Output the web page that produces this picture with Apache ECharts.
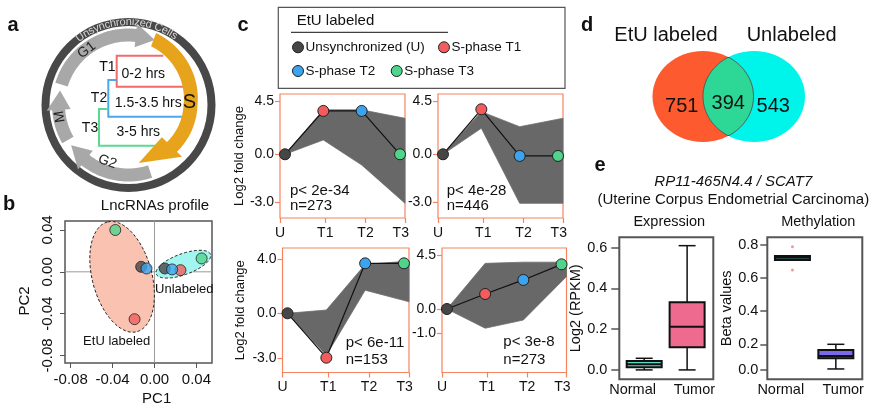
<!DOCTYPE html>
<html><head><meta charset="utf-8">
<script src="https://cdn.jsdelivr.net/npm/echarts@6/dist/echarts.min.js"></script>
<style>html,body{margin:0;padding:0;background:#fff}#c{width:869px;height:405px}</style>
</head><body><div id="c"></div>
<script>
// ---------------- DATA ----------------
// Panel b: PCA of lncRNA profiles (order: U, T1, T2, T3)
const pcaGroups = ['Unsynchronized (U)', 'S-phase T1', 'S-phase T2', 'S-phase T3'];
const etuPC1 = [-0.0127, -0.0190, -0.0076, -0.0374];
const etuPC2 = [0.0048, -0.0453, 0.0032, 0.0400];
const unlPC1 = [0.0098, 0.0248, 0.0168, 0.0450];
const unlPC2 = [0.0032, 0.0016, 0.0023, 0.0128];
const pcaTicks = [-0.08, -0.04, 0, 0.04];
// ellipse: [centre PC1, centre PC2, semi-major, semi-minor, angle deg]
const etuEllipse = [-0.0309, -0.0048, 0.0543, 0.0284, 105];
const unlEllipse = [0.0276, 0.0073, 0.0275, 0.0100, 20];

// Panel c: log2 fold-change profiles
const timePoints = ['U', 'T1', 'T2', 'T3'];
const timeX = [0, 1, 2, 3];
const bundleX = [0, 1, 2, 3.13];
const c1Profile = [0, 3.66, 3.66, 0];
const c1Upper = [0, 3.75, 3.75, 3.04];
const c1Lower = [0, 1.21, -0.90, -4.14];
const c2Profile = [0, 3.80, -0.14, -0.14];
const c2Upper = [0, 3.60, 2.33, 3.04];
const c2Lower = [0, 2.20, -4.14, -4.14];
const c3Profile = [0, -3.27, 3.68, 3.68];
const c3Upper = [0, 0.24, 3.60, 3.85];
const c3Lower = [0, -3.10, 1.70, 0.85];
const c4Profile = [0, 1.25, 2.42, 3.72];
const c4Upper = [0, 3.80, 3.90, 3.90];
const c4Lower = [0, -1.60, -0.92, 2.70];
const cPvals = ['p< 2e-34', 'p< 4e-28', 'p< 6e-11', 'p< 3e-8'];
const cNs = ['n=273', 'n=446', 'n=153', 'n=273'];
const cYTickText = [['4.5', '0.0', '-3.0'], ['4.5', '0.0', '-3.0'], ['4.0', '0.0', '-3.0'], ['4.5', '0.0', '-1.0']];
const cYTickPos = [[4.5, 0, -4.03], [4.5, 0, -4.03], [4.0, 0, -3.31], [4.5, 0, -2.03]];
const cXTickPos = [-0.13, 1.05, 2.1, 3.13];
const cXLabelPos = [-0.13, 1.05, 2.1, 3.02];

// Panel d: Venn
const vennSets = ['EtU labeled', 'Unlabeled'];
const vennCounts = [751, 394, 543];

// Panel e: boxplots
const boxGroups = ['Normal', 'Tumor'];
const exprMin = [0.000, 0.000];
const exprQ1 = [0.013, 0.111];
const exprMed = [0.028, 0.212];
const exprQ3 = [0.044, 0.332];
const exprMax = [0.057, 0.609];
const exprTicks = [0, 0.2, 0.4, 0.6];
const methMin = [0.709, 0.051];
const methQ1 = [0.709, 0.115];
const methMed = [0.723, 0.129];
const methQ3 = [0.733, 0.166];
const methMax = [0.733, 0.200];
const methOutliers = [[0, 0.790], [0, 0.649]];
const methTickPos = [0.0447, 0.2, 0.4, 0.6, 0.8];
const methTickText = ['0.0', '0.2', '0.4', '0.6', '0.8'];
const boxLabelPos = [-0.27, 1.17];

// ---------------- STYLE / BUILD ----------------
const FONT = 'Liberation Sans';
const dotColors = ['#464646', '#f25c5c', '#3ca4ee', '#50d48b'];
const ORANGE = '#f5845f';
const chart = echarts.init(document.getElementById('c'), null, {renderer: 'canvas', width: 869, height: 405});
const NOLINE = {show: false, onZero: false};

function mapLabel(pos, txt) {
  return v => { for (let i = 0; i < pos.length; i++) if (Math.abs(v - pos[i]) < 1e-6) return txt[i]; return ''; };
}
function T(text, x, y, size, o) {
  o = o || {};
  return {type: 'text', x: x, y: y, rotation: o.rot || 0, z: 10, silent: true,
    style: {text: text, fontSize: size, fontFamily: FONT, fontWeight: o.bold ? 'bold' : 'normal',
      fontStyle: o.italic ? 'italic' : 'normal', fill: o.color || '#111',
      align: o.align || 'center', verticalAlign: o.va || 'middle'}};
}

const grids = [], xAxes = [], yAxes = [], series = [], G = [];

// ---- Panel b
const bX = [-0.0854, 0.0549], bY = [-0.0872, 0.0486];
grids.push({left: 65, top: 221, width: 147, height: 142, show: true, borderColor: '#555', borderWidth: 1.5});
xAxes.push({gridIndex: 0, type: 'value', min: bX[0], max: bX[1], splitLine: {show: false}, axisLine: NOLINE,
  axisTick: {show: true, customValues: pcaTicks, length: 5, lineStyle: {color: '#555'}},
  axisLabel: {customValues: pcaTicks, formatter: v => v.toFixed(2), fontSize: 15, color: '#111', margin: 9, fontFamily: FONT}});
yAxes.push({gridIndex: 0, type: 'value', min: bY[0], max: bY[1], splitLine: {show: false}, axisLine: NOLINE,
  axisTick: {show: true, customValues: pcaTicks, length: 5, lineStyle: {color: '#555'}},
  axisLabel: {customValues: pcaTicks, formatter: v => v.toFixed(2), fontSize: 15, color: '#111', margin: 10, rotate: 90, fontFamily: FONT}});
series.push({type: 'custom', xAxisIndex: 0, yAxisIndex: 0, z: 0, silent: true, data: [[0, 0]],
  renderItem: (p, api) => {
    const a = api.coord([0, bY[0]]), b = api.coord([0, bY[1]]), c = api.coord([bX[0], 0]), d = api.coord([bX[1], 0]);
    return {type: 'group', children: [
      {type: 'line', shape: {x1: a[0], y1: a[1], x2: b[0], y2: b[1]}, style: {stroke: '#9a9a9a', lineWidth: 1}},
      {type: 'line', shape: {x1: c[0], y1: c[1], x2: d[0], y2: d[1]}, style: {stroke: '#9a9a9a', lineWidth: 1}}]};
  }});
function ellipseSeries(e, fill) {
  return {type: 'custom', xAxisIndex: 0, yAxisIndex: 0, z: 1, silent: true, data: [[e[0], e[1]]],
    renderItem: (p, api) => {
      const pts = [], th = e[4] * Math.PI / 180;
      for (let k = 0; k < 120; k++) {
        const t = k / 120 * 2 * Math.PI, u = e[2] * Math.cos(t), v = e[3] * Math.sin(t);
        pts.push(api.coord([e[0] + u * Math.cos(th) - v * Math.sin(th), e[1] + u * Math.sin(th) + v * Math.cos(th)]));
      }
      return {type: 'polygon', shape: {points: pts}, style: {fill: fill, stroke: '#222', lineWidth: 1, lineDash: [3, 2]}};
    }};
}
series.push(ellipseSeries(etuEllipse, '#f9c2b1'));
series.push(ellipseSeries(unlEllipse, '#a3f6f0'));
series.push({type: 'scatter', name: 'EtU labeled', xAxisIndex: 0, yAxisIndex: 0, z: 3, symbolSize: 11,
  data: etuPC1.map((x, i) => ({name: pcaGroups[i], value: [x, etuPC2[i]], itemStyle: {color: dotColors[i]}})),
  itemStyle: {borderColor: '#222', borderWidth: 1}});
series.push({type: 'scatter', name: 'Unlabeled', xAxisIndex: 0, yAxisIndex: 0, z: 3, symbolSize: 11,
  data: unlPC1.map((x, i) => ({name: pcaGroups[i], value: [x, unlPC2[i]], itemStyle: {color: dotColors[i]}})),
  itemStyle: {borderColor: '#222', borderWidth: 1}});

// ---- Panel c
const cGrid = [
  {left: 280, top: 94, width: 125, height: 124},
  {left: 438, top: 94, width: 125, height: 124},
  {left: 282.5, top: 248, width: 126.5, height: 124.5},
  {left: 442, top: 248, width: 124.5, height: 124.5}];
const cYRange = [[-5.38, 5.09], [-5.38, 5.09], [-4.36, 4.81], [-5.29, 5.08]];
const cProfiles = [c1Profile, c2Profile, c3Profile, c4Profile];
const cUppers = [c1Upper, c2Upper, c3Upper, c4Upper];
const cLowers = [c1Lower, c2Lower, c3Lower, c4Lower];
const cNameGap = [33.5, 0, 36, 0];
for (let k = 0; k < 4; k++) {
  const gi = k + 1;
  grids.push(Object.assign({show: true, borderColor: ORANGE, borderWidth: 1.2}, cGrid[k]));
  xAxes.push({gridIndex: gi, type: 'value', min: -0.13, max: 3.13, splitLine: {show: false}, axisLine: NOLINE,
    axisTick: {show: true, customValues: cXTickPos, length: 5, lineStyle: {color: ORANGE, width: 1.2}},
    axisLabel: {customValues: cXLabelPos, formatter: mapLabel(cXLabelPos, timePoints), fontSize: 14, color: '#111', margin: 8, fontFamily: FONT}});
  yAxes.push({gridIndex: gi, type: 'value', min: cYRange[k][0], max: cYRange[k][1], splitLine: {show: false}, axisLine: NOLINE,
    name: (k === 0 || k === 2) ? 'Log2 fold change' : '', nameLocation: 'middle', nameGap: cNameGap[k],
    nameTextStyle: {fontSize: 13, color: '#111', fontFamily: FONT},
    axisTick: {show: true, customValues: cYTickPos[k], length: 5, lineStyle: {color: ORANGE, width: 1.2}},
    axisLabel: {customValues: cYTickPos[k], formatter: mapLabel(cYTickPos[k], cYTickText[k]), fontSize: 14, color: '#111', margin: 6, fontFamily: FONT}});
  const up = cUppers[k], lo = cLowers[k];
  series.push({type: 'custom', xAxisIndex: gi, yAxisIndex: gi, z: 1, silent: true, data: [[0, 0]],
    renderItem: (p, api) => {
      const pts = [];
      for (let i = 0; i < bundleX.length; i++) pts.push(api.coord([bundleX[i], up[i]]));
      for (let i = bundleX.length - 1; i >= 0; i--) pts.push(api.coord([bundleX[i], lo[i]]));
      return {type: 'polygon', shape: {points: pts}, style: {fill: '#686868', stroke: '#6e6e6e', lineWidth: 0.8}};
    }});
  series.push({type: 'line', name: 'profile ' + (k + 1), xAxisIndex: gi, yAxisIndex: gi, z: 3,
    data: timeX.map((x, i) => ({name: timePoints[i], value: [x, cProfiles[k][i]], itemStyle: {color: dotColors[i]}})),
    symbol: 'circle', symbolSize: 11, lineStyle: {color: '#111', width: 1.2},
    itemStyle: {borderColor: '#222', borderWidth: 1}});
}
// p-values / n
const cTextPos = [[290, 191, 205.5], [446.7, 191, 206], [345.7, 342.7, 360], [503.3, 341.7, 360]];
for (let k = 0; k < 4; k++) {
  G.push(T(cPvals[k], cTextPos[k][0], cTextPos[k][1], 15, {align: 'left'}));
  G.push(T(cNs[k], cTextPos[k][0], cTextPos[k][2], 15, {align: 'left'}));
}

// ---- Panel e
function boxSeries(gi, mins, q1, med, q3, maxs, colors) {
  return {type: 'custom', xAxisIndex: gi, yAxisIndex: gi, z: 2,
    data: mins.map((m, i) => [i, m, q1[i], med[i], q3[i], maxs[i]]),
    renderItem: (p, api) => {
      const x = api.value(0);
      const pMin = api.coord([x, api.value(1)]), pQ1 = api.coord([x, api.value(2)]), pMed = api.coord([x, api.value(3)]),
        pQ3 = api.coord([x, api.value(4)]), pMax = api.coord([x, api.value(5)]);
      const bw = 35, cw = 17, cx = pMed[0];
      const ln = (x1, y1, x2, y2, w) => ({type: 'line', shape: {x1, y1, x2, y2}, style: {stroke: '#111', lineWidth: w}});
      return {type: 'group', children: [
        ln(cx, pMin[1], cx, pMax[1], 1.5),
        ln(cx - cw / 2, pMin[1], cx + cw / 2, pMin[1], 1.5),
        ln(cx - cw / 2, pMax[1], cx + cw / 2, pMax[1], 1.5),
        {type: 'rect', shape: {x: cx - bw / 2, y: pQ3[1], width: bw, height: Math.max(pQ1[1] - pQ3[1], 1)},
          style: {fill: colors[p.dataIndex], stroke: '#111', lineWidth: 2}},
        ln(cx - bw / 2, pMed[1], cx + bw / 2, pMed[1], 2)]};
    }};
}
// Expression grid (index 5)
grids.push({left: 619.3, top: 237.3, width: 94, height: 142, show: true, borderColor: '#555', borderWidth: 2});
xAxes.push({gridIndex: 5, type: 'value', min: -0.58, max: 1.61, splitLine: {show: false}, axisLine: NOLINE, axisTick: {show: false},
  axisLabel: {customValues: boxLabelPos, formatter: mapLabel(boxLabelPos, boxGroups), fontSize: 14.5, color: '#111', margin: 3, fontFamily: FONT}});
yAxes.push({gridIndex: 5, type: 'value', min: -0.046, max: 0.65, splitLine: {show: false}, axisLine: NOLINE,
  name: 'Log2 (RPKM)', nameLocation: 'middle', nameGap: 29, nameTextStyle: {fontSize: 14.5, color: '#111', fontFamily: FONT},
  axisTick: {show: true, customValues: exprTicks, length: 8, lineStyle: {color: '#555', width: 1.5}},
  axisLabel: {customValues: exprTicks, formatter: v => v.toFixed(1), fontSize: 14.5, color: '#111', margin: 12, fontFamily: FONT}});
series.push(boxSeries(5, exprMin, exprQ1, exprMed, exprQ3, exprMax, ['#5fd9c1', '#ef6a8f']));
// Methylation grid (index 6)
grids.push({left: 767.3, top: 237.3, width: 95, height: 142, show: true, borderColor: '#555', borderWidth: 2});
xAxes.push({gridIndex: 6, type: 'value', min: -0.58, max: 1.61, splitLine: {show: false}, axisLine: NOLINE, axisTick: {show: false},
  axisLabel: {customValues: boxLabelPos, formatter: mapLabel(boxLabelPos, boxGroups), fontSize: 14.5, color: '#111', margin: 3, fontFamily: FONT}});
yAxes.push({gridIndex: 6, type: 'value', min: -0.0115, max: 0.8466, splitLine: {show: false}, axisLine: NOLINE,
  name: 'Beta values', nameLocation: 'middle', nameGap: 30, nameTextStyle: {fontSize: 14.5, color: '#111', fontFamily: FONT},
  axisTick: {show: true, customValues: methTickPos, length: 7, lineStyle: {color: '#555', width: 1.5}},
  axisLabel: {customValues: methTickPos, formatter: mapLabel(methTickPos, methTickText), fontSize: 14.5, color: '#111', margin: 9, fontFamily: FONT}});
series.push(boxSeries(6, methMin, methQ1, methMed, methQ3, methMax, ['#62e3dc', '#7b69ec']));
series.push({type: 'scatter', xAxisIndex: 6, yAxisIndex: 6, z: 3, symbolSize: 3, data: methOutliers, itemStyle: {color: '#ee8080'}, silent: true});

// ---------------- GRAPHIC (schematics & annotations) ----------------
// panel letters
G.push(T('a', 13, 25, 20, {bold: true}));
G.push(T('b', 9, 204, 20, {bold: true}));
G.push(T('c', 243, 25, 20, {bold: true}));
G.push(T('d', 587, 25, 20, {bold: true}));
G.push(T('e', 600, 165, 20, {bold: true}));

// Panel a: cell cycle
const CX = 128.5, CY = 105;
function pol(r, deg) { const a = deg * Math.PI / 180; return [CX + r * Math.cos(a), CY + r * Math.sin(a)]; }
function arrowPoly(a0, a1, aTip, rFn, hw, hhw) {
  const pts = [], n = 40;
  for (let k = 0; k <= n; k++) { const a = a0 + (a1 - a0) * k / n; pts.push(pol(rFn(a) + hw, a)); }
  pts.push(pol(rFn(a1) + hhw, a1));
  pts.push(pol(rFn(aTip), aTip));
  pts.push(pol(rFn(a1) - hhw, a1));
  for (let k = n; k >= 0; k--) { const a = a0 + (a1 - a0) * k / n; pts.push(pol(rFn(a) - hw, a)); }
  return pts;
}
G.push({type: 'ring', shape: {cx: CX, cy: CY, r: 87, r0: 79}, style: {fill: '#484848'}, silent: true});
// arc text
(function () {
  const txt = 'Unsynchronized Cells';
  const cv = document.createElement('canvas').getContext('2d');
  cv.font = '11px ' + FONT;
  const ws = [...txt].map(ch => cv.measureText(ch).width);
  const total = ws.reduce((a, b) => a + b, 0);
  const R = 83;
  let s = -91.5 - (total / R) * 180 / Math.PI / 2;
  [...txt].forEach((ch, i) => {
    const mid = s + (ws[i] / 2) / R * 180 / Math.PI;
    const p = pol(R, mid);
    G.push(T(ch, p[0], p[1], 11, {color: '#d6d6d6', rot: -(mid + 90) * Math.PI / 180}));
    s += ws[i] / R * 180 / Math.PI;
  });
})();
// brackets
const bracket = (pts, col) => ({type: 'polyline', shape: {points: pts}, style: {stroke: col, lineWidth: 2, fill: null}, silent: true});
G.push(bracket([[163.3, 55.7], [116.7, 55.7], [116.7, 86.7], [184, 86.7]], '#f26b6b'));
G.push(bracket([[116.7, 80], [108.3, 80], [108.3, 116.7], [184, 116.7]], '#4aa9ee'));
G.push(bracket([[108.3, 109], [99, 109], [99, 145.7], [160, 145.7]], '#5bd98e'));
const grayR = () => 70;
G.push({type: 'polygon', shape: {points: arrowPoly(72, 128, 145, grayR, 6.5, 12)}, style: {fill: '#a8a8a8'}, silent: true});
G.push({type: 'polygon', shape: {points: arrowPoly(150, 176, 192, grayR, 6.5, 12)}, style: {fill: '#a8a8a8'}, silent: true});
G.push({type: 'polygon', shape: {points: arrowPoly(197, 276, 292, grayR, 6.5, 12)}, style: {fill: '#a8a8a8'}, silent: true});
const orR = a => a < 0 ? 70 - 8 * (a + 69) / 69 : 62 - 3 * a / 80;
G.push({type: 'polygon', shape: {points: arrowPoly(-69, 44, 80, orR, 7, 14)}, style: {fill: '#e7a31b'}, silent: true});
G.push(T('G1', 86.7, 50, 14, {rot: 37 * Math.PI / 180, color: '#222'}));
G.push(T('M', 60, 116.7, 14, {rot: 100 * Math.PI / 180, color: '#222'}));
G.push(T('G2', 107.3, 161.7, 14, {rot: -20 * Math.PI / 180, color: '#222'}));
G.push(T('S', 189.3, 102.3, 20));
G.push(T('T1', 107.3, 66.7, 14));
G.push(T('0-2 hrs', 143.3, 74.3, 14));
G.push(T('T2', 99, 98.3, 14));
G.push(T('1.5-3.5 hrs', 148.3, 103.3, 14));
G.push(T('T3', 90, 128.3, 14));
G.push(T('3-5 hrs', 138.3, 132.3, 14));

// Panel b annotations
G.push(T('LncRNAs profile', 155, 206, 15));
G.push(T('PC2', 25, 301, 15, {rot: Math.PI / 2}));
G.push(T('PC1', 156.7, 399, 15));
G.push(T('EtU labeled', 116.7, 341.7, 13));
G.push(T('Unlabeled', 184.3, 289, 13));

// Panel c legend
G.push({type: 'rect', shape: {x: 278.3, y: 7.3, width: 286.7, height: 81}, style: {fill: '#fff', stroke: '#555', lineWidth: 1.2}, silent: true});
G.push(T('EtU labeled', 296.7, 20.7, 15, {align: 'left'}));
G.push({type: 'line', shape: {x1: 291, y1: 32.3, x2: 448, y2: 32.3}, style: {stroke: '#111', lineWidth: 1}, silent: true});
const legPos = [[298, 47.3], [444, 47.3], [298, 71], [396.7, 71]];
pcaGroups.forEach((g, i) => {
  G.push({type: 'circle', shape: {cx: legPos[i][0], cy: legPos[i][1], r: 5.5}, style: {fill: dotColors[i], stroke: '#222', lineWidth: 1}, silent: true});
  G.push(T(g, legPos[i][0] + 7.5, legPos[i][1], 13.5, {align: 'left'}));
});

// Panel d: Venn
(function () {
  const L = {cx: 703, cy: 96.5, rx: 50.5, ry: 45.5}, R = {cx: 754, cy: 96.5, rx: 51, ry: 45.5};
  G.push({type: 'ellipse', shape: L, style: {fill: '#fe5a2f'}, silent: true});
  G.push({type: 'ellipse', shape: R, style: {fill: '#00f5ea'}, silent: true});
  const inside = (E, p) => ((p[0] - E.cx) / E.rx) ** 2 + ((p[1] - E.cy) / E.ry) ** 2 <= 1.0001;
  const pts = [];
  for (let k = 0; k < 360; k++) { const t = k * Math.PI / 180; const p = [L.cx + L.rx * Math.cos(t), L.cy + L.ry * Math.sin(t)]; if (inside(R, p)) pts.push([t > Math.PI ? t - 2 * Math.PI : t, p]); }
  pts.sort((a, b) => a[0] - b[0]);
  const lens = pts.map(a => a[1]);
  const pts2 = [];
  for (let k = 0; k < 360; k++) { const t = k * Math.PI / 180; const p = [R.cx + R.rx * Math.cos(t), R.cy + R.ry * Math.sin(t)]; if (inside(L, p)) pts2.push([t, p]); }
  pts2.sort((a, b) => a[0] - b[0]);
  pts2.forEach(a => lens.push(a[1]));
  G.push({type: 'polygon', shape: {points: lens}, style: {fill: '#2dd897', stroke: '#505050', lineWidth: 1}, silent: true});
  G.push(T(vennSets[0], 666, 35, 20));
  G.push(T(vennSets[1], 791.7, 35, 20));
  G.push(T(String(vennCounts[0]), 681.7, 106.7, 20));
  G.push(T(String(vennCounts[1]), 728.3, 103.3, 20));
  G.push(T(String(vennCounts[2]), 773.3, 106.7, 20));
})();

// Panel e titles
G.push(T('RP11-465N4.4 / SCAT7', 733.3, 182.3, 15, {italic: true}));
G.push(T('(Uterine Corpus Endometrial Carcinoma)', 733.3, 200, 15));
G.push(T('Expression', 669.3, 221.7, 14.5));
G.push(T('Methylation', 818.3, 221.7, 14.5));

chart.setOption({
  animation: false,
  backgroundColor: '#fff',
  textStyle: {fontFamily: FONT, color: '#111'},
  grid: grids, xAxis: xAxes, yAxis: yAxes, series: series,
  graphic: {elements: G}
});
</script></body></html>
